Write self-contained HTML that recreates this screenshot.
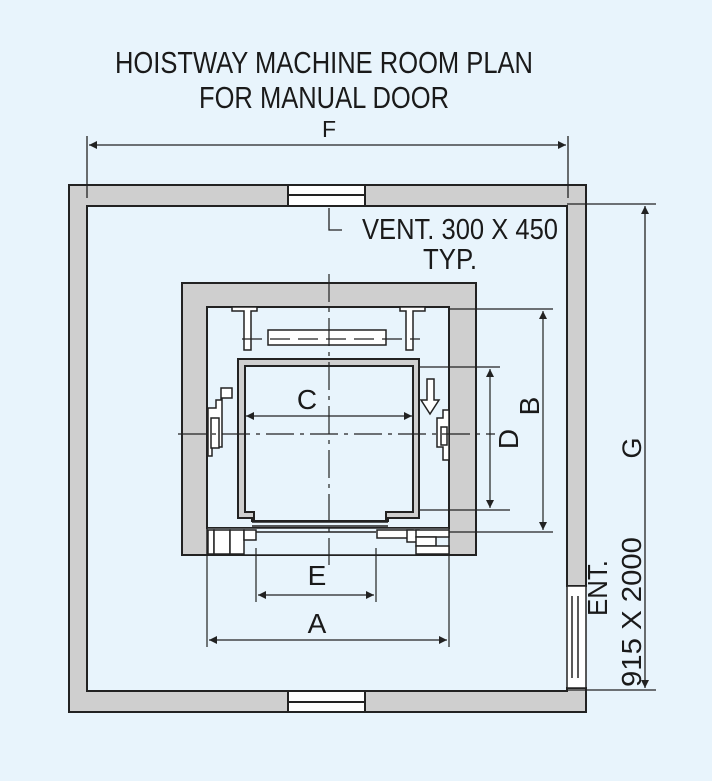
<!DOCTYPE html>
<html><head><meta charset="utf-8"><style>
html,body{margin:0;padding:0;background:#e8f4fc;}
svg{display:block;}
text{font-family:"Liberation Sans",sans-serif;fill:#1a1a1a;}
</style></head><body>
<svg width="712" height="781" viewBox="0 0 712 781" xmlns="http://www.w3.org/2000/svg">
<defs>
<marker id="ar" viewBox="0 0 10 10" refX="10" refY="5" markerWidth="12" markerHeight="8" orient="auto-start-reverse" markerUnits="userSpaceOnUse"><path d="M0,0 L10,5 L0,10 z" fill="#222"/></marker>
</defs>
<rect width="712" height="781" fill="#e8f4fc"/>
<text x="324" y="73" font-size="31" text-anchor="middle" textLength="418" lengthAdjust="spacingAndGlyphs">HOISTWAY MACHINE ROOM PLAN</text>
<text x="324" y="108" font-size="31" text-anchor="middle" textLength="250" lengthAdjust="spacingAndGlyphs">FOR MANUAL DOOR</text>
<text x="329" y="137" font-size="23" text-anchor="middle">F</text>

<g stroke="#222" stroke-width="2">
<path d="M69,185 H586 V586 H567 V206 H87 V691 H567 V688 H586 V712 H69 Z" fill="#cfcfcf" fill-rule="evenodd"/>
<rect x="288" y="185" width="77" height="21" fill="#fff"/>
<line x1="288" y1="195" x2="365" y2="195"/>
<rect x="288" y="691" width="77" height="21" fill="#fff"/>
<line x1="288" y1="702" x2="365" y2="702"/>
<rect x="567" y="586" width="19" height="102" fill="#fff" stroke-width="1.5"/>
<line x1="572" y1="596" x2="572" y2="678" stroke-width="1.5"/>
<line x1="578" y1="596" x2="578" y2="678" stroke-width="1.5"/>
</g>

<g stroke="#222" stroke-width="1.3" fill="none">
<line x1="87" y1="136" x2="87" y2="198"/>
<line x1="568" y1="136" x2="568" y2="198"/>
<line x1="89" y1="145" x2="566" y2="145" marker-start="url(#ar)" marker-end="url(#ar)"/>
<polyline points="329,208 329,230 342,230"/>
<line x1="567" y1="204" x2="656" y2="204"/>
<line x1="568" y1="690" x2="656" y2="690"/>
<line x1="645" y1="206" x2="645" y2="688" marker-start="url(#ar)" marker-end="url(#ar)"/>
</g>
<text x="460" y="239" font-size="29" text-anchor="middle" textLength="196" lengthAdjust="spacingAndGlyphs">VENT. 300 X 450</text>
<text x="450" y="269" font-size="29" text-anchor="middle" textLength="54" lengthAdjust="spacingAndGlyphs">TYP.</text>
<text transform="translate(641,448) rotate(-90)" font-size="27" text-anchor="middle">G</text>
<text transform="translate(607,588) rotate(-90)" font-size="28" text-anchor="middle" textLength="56" lengthAdjust="spacingAndGlyphs">ENT.</text>
<text transform="translate(641,612) rotate(-90)" font-size="28" text-anchor="middle" textLength="150" lengthAdjust="spacingAndGlyphs">915 X 2000</text>

<g stroke="#222" stroke-width="2">
<path d="M182,283 H476 V555 H182 Z M207,307 V528 H449 V307 Z" fill="#cfcfcf" fill-rule="evenodd"/>
<rect x="207" y="528" width="242" height="27" fill="#e8f4fc" stroke-width="1.5"/>
</g>
<g stroke="#222" stroke-width="1.5" fill="#fff">
<rect x="208" y="530" width="6" height="24"/>
<rect x="214" y="530" width="16" height="24"/>
<rect x="230" y="530" width="14" height="24"/>
<rect x="244" y="530" width="12" height="10"/>
<rect x="377" y="530" width="36" height="8"/>
<rect x="407" y="530" width="12" height="12"/>
<rect x="416" y="530" width="33" height="7"/>
<rect x="416" y="537" width="20" height="9"/>
<rect x="416" y="546" width="33" height="8"/>
<line x1="256" y1="532" x2="376" y2="532" fill="none"/>
<path d="M232,307 H257 V311 H251 V350 H244 V311 H232 Z"/>
<path d="M425,307 H400 V311 H406 V350 H413 V311 H425 Z"/>
<rect x="268" y="330" width="118" height="15"/>
<path d="M208,408 H216 V400 H221 V388 H232 V398 H222 V447 H212 V456 H208 Z"/>
<rect x="211" y="418" width="8" height="30"/>
<path d="M449,410 H443 V418 H437 V447 H443 V460 H449 Z"/>
<rect x="441" y="427" width="6" height="18"/>
<path d="M427,379 H434 V400 H439 L430,414 L421,400 H427 Z"/>
</g>
<g stroke="#222" stroke-width="2">
<path d="M238,359 H419 V518 H388 V521 H252 V518 H238 Z M245,366 V512 H254 V521 H386 V512 H413 V366 Z" fill="#cfcfcf" fill-rule="evenodd"/>
<line x1="252" y1="522" x2="388" y2="522" stroke-width="1.5"/>
<line x1="252" y1="526" x2="388" y2="526" stroke-width="1.5"/>
</g>

<g stroke="#222" stroke-width="1.2" fill="none">
<line x1="329" y1="274" x2="329" y2="565" stroke-dasharray="28,6,4,6"/>
<line x1="178" y1="434" x2="495" y2="434" stroke-dasharray="28,6,4,6"/>
<line x1="242" y1="339" x2="420" y2="339" stroke-dasharray="20,8"/>
<line x1="246" y1="416" x2="412" y2="416" marker-start="url(#ar)" marker-end="url(#ar)"/>
<line x1="419" y1="367" x2="500" y2="367"/>
<line x1="419" y1="510" x2="510" y2="510"/>
<line x1="490" y1="369" x2="490" y2="508" marker-start="url(#ar)" marker-end="url(#ar)"/>
<line x1="449" y1="309" x2="553" y2="309"/>
<line x1="449" y1="532" x2="553" y2="532"/>
<line x1="543" y1="311" x2="543" y2="530" marker-start="url(#ar)" marker-end="url(#ar)"/>
<line x1="256" y1="548" x2="256" y2="602"/>
<line x1="376" y1="548" x2="376" y2="602"/>
<line x1="258" y1="595" x2="374" y2="595" marker-start="url(#ar)" marker-end="url(#ar)"/>
<line x1="207" y1="555" x2="207" y2="647"/>
<line x1="449" y1="555" x2="449" y2="647"/>
<line x1="209" y1="640" x2="447" y2="640" marker-start="url(#ar)" marker-end="url(#ar)"/>
</g>
<text x="307" y="409" font-size="28" text-anchor="middle">C</text>
<text transform="translate(518,439) rotate(-90)" font-size="28" text-anchor="middle">D</text>
<text transform="translate(539,406) rotate(-90)" font-size="28" text-anchor="middle">B</text>
<text x="317" y="585" font-size="28" text-anchor="middle">E</text>
<text x="317" y="633" font-size="28" text-anchor="middle">A</text>
</svg>
</body></html>
